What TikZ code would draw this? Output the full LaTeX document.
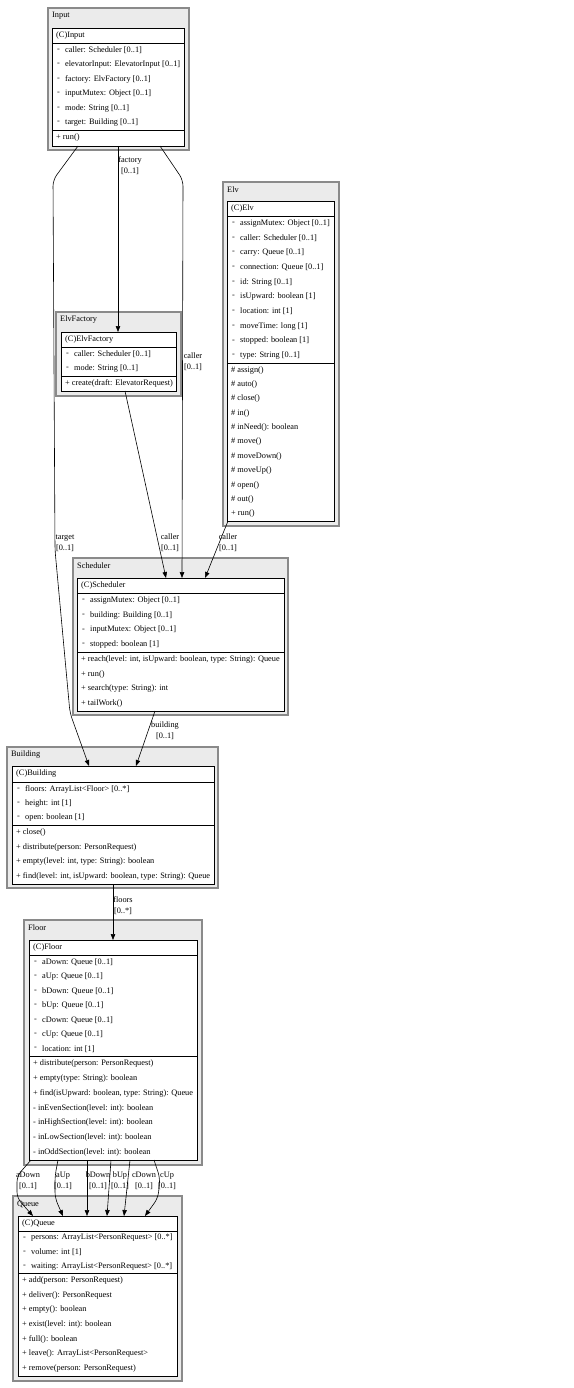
\documentclass[tikz,border=0pt]{standalone}
\usepackage{fontspec}
\setmainfont{Liberation Serif}
\usetikzlibrary{arrows.meta}
\definecolor{pkgfill}{HTML}{EBEBEB}
\definecolor{pkgdraw}{HTML}{8A8A8A}
\tikzset{
  pkgbox/.style={draw=pkgdraw, fill=pkgfill, line width=1.1pt, inner sep=0pt, outer sep=0pt},
  classbox/.style={draw=black, fill=white, line width=0.7pt, inner sep=0pt, outer sep=0pt},
  sepline/.style={draw=black, line width=0.7pt},
  rowtext/.style={font=\fontsize{8.3}{10}\selectfont, inner sep=0pt, anchor=west},
  edge/.style={draw=black, line width=0.6pt, rounded corners=6pt, -{Triangle[length=6pt,width=4.5pt]}},
  elabel/.style={font=\fontsize{8.3}{11}\selectfont, align=center, inner sep=0pt}
}
\newcommand\umlpkg[6]{%
  \node[pkgbox, anchor=north west, minimum width={(#3-#2)*1pt}, minimum height={(#5-#4)*1pt}] (#1) at (#2,#4) {};
  \node[rowtext] (#1-label) at ({#2+4},{#4+8}) {#6};
}
\newcommand\umlclass[8]{%
  \node[classbox, anchor=north west, minimum width={(#3-#2)*1pt}, minimum height={(#7-#4)*1pt}] (#1) at (#2,#4) {};
  \draw[sepline] (#2,#5) -- (#3,#5);
  \draw[sepline] (#2,#6) -- (#3,#6);
  \node[rowtext] (#1-title) at ({#2+4},{(#4+#5)/2}) {#8};
}
\newcommand\umlattrs[5]{%
  \foreach \t [count=\i] in {#5} {
    \node[rowtext] (#1-ad\i) at ({#2+5},{#3+(\i-0.5)*#4}) {-};
    \node[rowtext] (#1-a\i) at ({#2+13},{#3+(\i-0.5)*#4}) {\t};
  }
}
\newcommand\umlmeths[5]{%
  \foreach \t [count=\i] in {#5} {
    \node[rowtext] (#1-m\i) at ({#2+4},{#3+(\i-0.5)*#4}) {\t};
  }
}
\begin{document}
\begin{tikzpicture}[x=1pt,y=-1pt]
\fill[white] (0,0) rectangle (573,1388);
\useasboundingbox (0,0) rectangle (573,1388);

% ---------- Input ----------
\umlpkg{pInput}{48}{189}{8}{150}{Input}
\umlclass{Input}{52}{184}{28}{43}{130}{146}{(C)Input}
\umlattrs{Input}{52}{43}{14.5}{caller: Scheduler [0..1], elevatorInput: ElevatorInput [0..1], factory: ElvFactory [0..1], inputMutex: Object [0..1], mode: String [0..1], target: Building [0..1]}
\umlmeths{Input}{52}{130}{16}{+ run()}

% ---------- ElvFactory ----------
\umlpkg{pElvFactory}{56}{181}{312}{396}{ElvFactory}
\umlclass{ElvFactory}{61}{176}{332}{347}{376}{391}{(C)ElvFactory}
\umlattrs{ElvFactory}{61}{347}{14.5}{caller: Scheduler [0..1], mode: String [0..1]}
\umlmeths{ElvFactory}{61}{376}{15}{+ create(draft: ElevatorRequest)}

% ---------- Elv ----------
\umlpkg{pElv}{223}{339}{182}{526}{Elv}
\umlclass{Elv}{227}{334}{201}{216}{363}{521}{(C)Elv}
\umlattrs{Elv}{227}{216}{14.7}{assignMutex: Object [0..1], caller: Scheduler [0..1], carry: Queue [0..1], connection: Queue [0..1], id: String [0..1], isUpward: boolean [1], location: int [1], moveTime: long [1], stopped: boolean [1], type: String [0..1]}
\umlmeths{Elv}{227}{363}{14.36}{\# assign(), \# auto(), \# close(), \# in(), \# inNeed(): boolean, \# move(), \# moveDown(), \# moveUp(), \# open(), \# out(), + run()}

% ---------- Scheduler ----------
\umlpkg{pScheduler}{73}{288}{558}{715}{Scheduler}
\umlclass{Scheduler}{77}{284}{578}{593}{652}{711}{(C)Scheduler}
\umlattrs{Scheduler}{77}{593}{14.75}{assignMutex: Object [0..1], building: Building [0..1], inputMutex: Object [0..1], stopped: boolean [1]}
\umlmeths{Scheduler}{77}{652}{14.75}{{+ reach(level: int, isUpward: boolean, type: String): Queue}, + run(), + search(type: String): int, + tailWork()}

% ---------- Building ----------
\umlpkg{pBuilding}{7}{218}{747}{888}{Building}
\umlclass{Building}{12}{214}{766}{782}{825}{884}{(C)Building}
\umlattrs{Building}{12}{782}{14.3}{floors: ArrayList<Floor> [0..*], height: int [1], open: boolean [1]}
\umlmeths{Building}{12}{825}{14.75}{+ close(), + distribute(person: PersonRequest), {+ empty(level: int, type: String): boolean}, {+ find(level: int, isUpward: boolean, type: String): Queue}}

% ---------- Floor ----------
\umlpkg{pFloor}{24}{202}{920}{1165}{Floor}
\umlclass{Floor}{29}{197}{940}{955}{1056}{1160}{(C)Floor}
\umlattrs{Floor}{29}{955}{14.43}{aDown: Queue [0..1], aUp: Queue [0..1], bDown: Queue [0..1], bUp: Queue [0..1], cDown: Queue [0..1], cUp: Queue [0..1], location: int [1]}
\umlmeths{Floor}{29}{1056}{14.86}{+ distribute(person: PersonRequest), + empty(type: String): boolean, {+ find(isUpward: boolean, type: String): Queue}, - inEvenSection(level: int): boolean, - inHighSection(level: int): boolean, - inLowSection(level: int): boolean, - inOddSection(level: int): boolean}

% ---------- Queue ----------
\umlpkg{pQueue}{13}{182}{1196}{1381}{Queue}
\umlclass{Queue}{18}{177}{1216}{1231}{1273}{1376}{(C)Queue}
\umlattrs{Queue}{18}{1231}{14}{persons: ArrayList<PersonRequest> [0..*], volume: int [1], waiting: ArrayList<PersonRequest> [0..*]}
\umlmeths{Queue}{18}{1273}{14.7}{+ add(person: PersonRequest), + deliver(): PersonRequest, + empty(): boolean, + exist(level: int): boolean, + full(): boolean, + leave(): ArrayList<PersonRequest>, + remove(person: PersonRequest)}

% ---------- connectors ----------
\draw[edge] ([xshift=66pt]Input.south west) -- ([xshift=57pt]ElvFactory.north west);
\node[elabel] (lfactory) at (130,165.5) {factory\\{[0..1]}};

\draw[edge] ([xshift=108pt]Input.south west) -- (183,180) -- ([xshift=105pt]Scheduler.north west);
\node[elabel] (lcaller1) at (193,362) {caller\\{[0..1]}};

\draw[edge] ([xshift=26pt]Input.south west) -- (53,180) -- (55,550) -- (70,713) -- ([xshift=77pt]Building.north west);
\node[elabel] (ltarget) at (65,543) {target\\{[0..1]}};

\draw[edge] ([xshift=64pt]ElvFactory.south west) -- ([xshift=89pt]Scheduler.north west);
\node[elabel] (lcaller2) at (170,543) {caller\\{[0..1]}};

\draw[edge] ([xshift=1pt]Elv.south west) -- ([xshift=128pt]Scheduler.north west);
\node[elabel] (lcaller3) at (228,543) {caller\\{[0..1]}};

\draw[edge] ([xshift=78pt]Scheduler.south west) -- ([xshift=124pt]Building.north west);
\node[elabel] (lbuilding) at (165,731) {building\\{[0..1]}};

\draw[edge] ([xshift=101pt]Building.south west) -- ([xshift=84pt]Floor.north west);
\node[elabel] (lfloors) at (123,905.5) {floors\\{[0..*]}};

\draw[edge] ([xshift=2pt]Floor.south west) -- (17,1176) -- (17,1198) -- ([xshift=15pt]Queue.north west);
\node[elabel] (laDown) at (28,1180.5) {aDown\\{[0..1]}};
\draw[edge] ([xshift=29pt]Floor.south west) -- (55,1176) -- (55,1198) -- ([xshift=45pt]Queue.north west);
\node[elabel] (laUp) at (63,1180.5) {aUp\\{[0..1]}};
\draw[edge] ([xshift=58pt]Floor.south west) -- ([xshift=69pt]Queue.north west);
\node[elabel] (lbDown) at (98,1180.5) {bDown\\{[0..1]}};
\draw[edge] ([xshift=82pt]Floor.south west) -- ([xshift=89pt]Queue.north west);
\node[elabel] (lbUp) at (120,1180.5) {bUp\\{[0..1]}};
\draw[edge] ([xshift=101pt]Floor.south west) -- ([xshift=106pt]Queue.north west);
\node[elabel] (lcDown) at (144,1180.5) {cDown\\{[0..1]}};
\draw[edge] ([xshift=125pt]Floor.south west) -- (160,1178) -- (158,1198) -- ([xshift=127pt]Queue.north west);
\node[elabel] (lcUp) at (167,1180.5) {cUp\\{[0..1]}};
\end{tikzpicture}
\end{document}
